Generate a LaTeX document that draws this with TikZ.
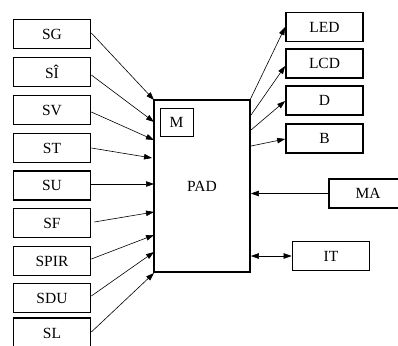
\documentclass[tikz,border=0pt]{standalone}
\usepackage{fontspec}
\setmainfont{Liberation Serif}
\usetikzlibrary{arrows.meta}
\begin{document}
\begin{tikzpicture}[x=1pt,y=-1pt,
  lbl/.style={font=\fontsize{15.5}{17}\selectfont},
  blk/.style={draw,line width=1.7pt,minimum width=77pt,minimum height=29pt,inner sep=0pt,lbl},
  thin box/.style={draw,line width=0.7pt,minimum width=33pt,minimum height=28pt,inner sep=0pt,lbl},
  conn/.style={line width=0.6pt,-{Triangle[length=8pt,width=5.5pt]}},
  conn2/.style={line width=0.6pt,{Triangle[length=8pt,width=5.5pt]}-{Triangle[length=8pt,width=5.5pt]}}]
\useasboundingbox (0,0) rectangle (398,345);
\clip (0,0) rectangle (398,345);
% left boxes
\node[blk] (SG) at (52,34) {SG};
\node[blk] (SI) at (52,72) {SÎ};
\node[blk] (SV) at (52,110) {SV};
\node[blk] (ST) at (52,148) {ST};
\node[blk] (SU) at (52,185.5) {SU};
\node[blk] (SF) at (52,223) {SF};
\node[blk] (SPIR) at (52,261) {SPIR};
\node[blk] (SDU) at (52,298) {SDU};
\node[blk,minimum height=30pt] (SL) at (52,333) {SL};
% PAD
\node[draw,line width=1.7pt,minimum width=96pt,minimum height=172pt,inner sep=0pt,lbl] (PAD) at (202,186) {PAD};
\node[thin box] (M) at (176.5,122) {M};
% right boxes
\node[blk] (LED) at (324.5,27) {LED};
\node[blk] (LCD) at (324.5,63.5) {LCD};
\node[blk] (D) at (324.5,100.5) {D};
\node[blk] (B) at (324.5,138.5) {B};
\node[blk,minimum width=78pt] (MA) at (368,193.5) {MA};
\node[blk] (IT) at (331,256) {IT};
% coordinates on PAD edges
\coordinate (p1) at (154,100);
\coordinate (p2) at (154,122);
\coordinate (p3) at (154,140);
\coordinate (p4) at (152,158);
\coordinate (p5) at (154,184);
\coordinate (p6) at (154,212);
\coordinate (p7) at (154,235);
\coordinate (p8) at (154,252);
\coordinate (p9) at (154,273);
\draw[conn] (SG.east |- 0,33) -- (p1);
\draw[conn] (SI.east |- 0,75) -- (p2);
\draw[conn] (SV.east |- 0,112) -- (p3);
\draw[conn] (ST.east |- 0,148) -- (p4);
\draw[conn] (SU.east |- 0,184) -- (p5);
\draw[conn] ([xshift=3pt]SF.east |- 0,222) -- (p6);
\draw[conn] (SPIR.east |- 0,259) -- (p7);
\draw[conn] (SDU.east |- 0,296) -- (p8);
\draw[conn] (SL.east |- 0,332) -- (p9);
% right arrows
\coordinate (q1) at (250,100);
\coordinate (q2) at (251,115);
\coordinate (q3) at (251,130);
\coordinate (q4) at (251,146);
\draw[conn] (q1) -- (LED.west);
\draw[conn] (q2) -- (LCD.west |- 0,66);
\draw[conn] (q3) -- (D.west |- 0,101);
\draw[conn] (q4) -- (B.west |- 0,139);
\draw[conn] (MA.west) -- (PAD.east |- MA.west);
\draw[conn2] (PAD.east |- IT.west) -- (IT.west);
\end{tikzpicture}
\end{document}
